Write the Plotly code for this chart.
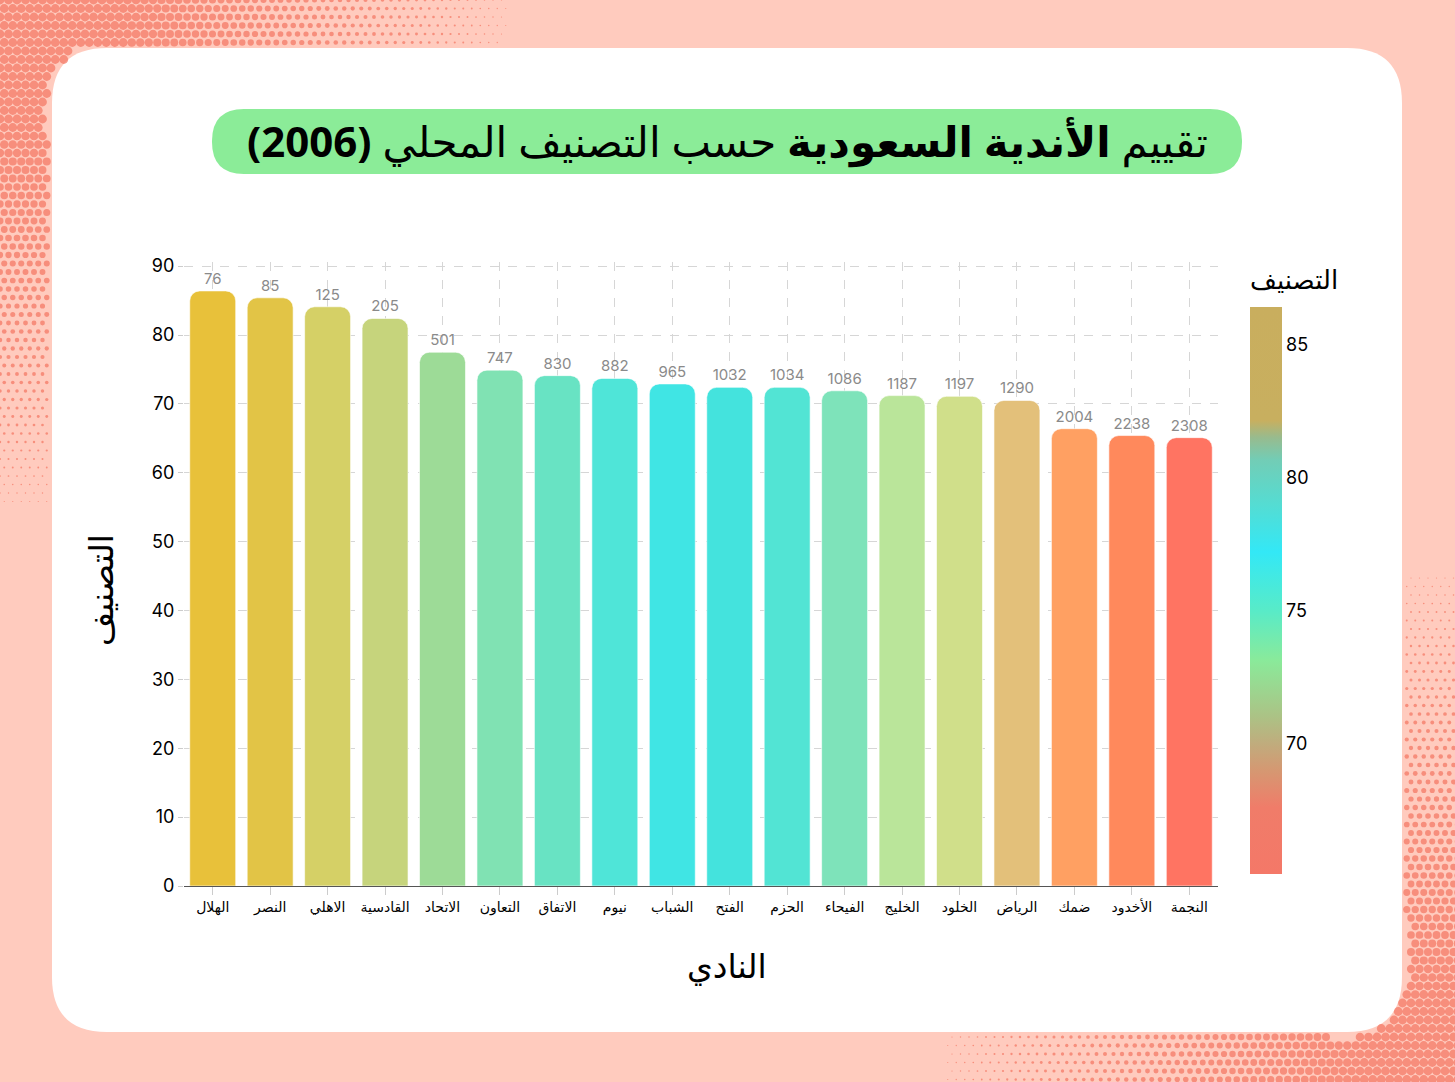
import numpy as np
import plotly.graph_objects as go

# data
clubs = ["الهلال", "النصر", "الاهلي", "القادسية", "الاتحاد", "التعاون", "الاتفاق", "نيوم", "الشباب",
         "الفتح", "الحزم", "الفيحاء", "الخليج", "الخلود", "الرياض", "ضمك", "الأخدود", "النجمة"]
ratings = [86.4, 85.4, 84.1, 82.4, 77.5, 74.9, 74.1, 73.7, 72.9,
           72.4, 72.4, 71.9, 71.2, 71.1, 70.5, 66.4, 65.4, 65.1]
ranks = [76, 85, 125, 205, 501, 747, 830, 882, 965,
         1032, 1034, 1086, 1187, 1197, 1290, 2004, 2238, 2308]

# styling
bar_colors = ["#E8C13A", "#E2C446", "#D5D066", "#C6D47C", "#9DDB97", "#80E2B3", "#68E3C3", "#4FE5D8", "#40E5E4",
              "#44E3DD", "#52E4D4", "#7EE3BA", "#BAE59A", "#D0DF8A", "#E3C07A", "#FFA062", "#FF895C", "#FF7462"]
cbar_scale = [[0.0, "#F47868"], [0.117, "#F07C69"], [0.183, "#D59872"], [0.23, "#C0AC7D"],
              [0.277, "#ACC285"], [0.376, "#8AEA9A"], [0.465, "#58EBC8"], [0.568, "#33E8F6"],
              [0.653, "#55DCD2"], [0.73, "#72CDB6"], [0.77, "#98BB8E"], [0.80, "#C8AF5F"], [1.0, "#C9AE5E"]]

W, H = 1455, 1082
BG = "#FFCBBE"
DOT = "#F3735F"
FONT = "Inter, Noto Sans, DejaVu Sans, sans-serif"
AR_FONT = "Noto Sans, DejaVu Sans, sans-serif"
CARD = (52, 48, 1402, 1032, 55)


def px(x, y):
    return x / W, 1 - y / H


def rounded_path(x0, y0, x1, y1, r):
    pts = [
        ("M", (x0 + r, y0)), ("L", (x1 - r, y0)), ("Q", (x1, y0), (x1, y0 + r)),
        ("L", (x1, y1 - r)), ("Q", (x1, y1), (x1 - r, y1)),
        ("L", (x0 + r, y1)), ("Q", (x0, y1), (x0, y1 - r)),
        ("L", (x0, y0 + r)), ("Q", (x0, y0), (x0 + r, y0)),
    ]
    out = []
    for p in pts:
        coords = " ".join("%.5f,%.5f" % px(*c) for c in p[1:])
        out.append(p[0] + coords)
    return " ".join(out) + " Z"


def inside_card(x, y, pad):
    x0, y0, x1, y1, r = CARD
    x0, y0, x1, y1, r = x0 - pad, y0 - pad, x1 + pad, y1 + pad, r + pad
    dx = np.maximum(np.maximum(x0 + r - x, 0), x - (x1 - r))
    dy = np.maximum(np.maximum(y0 + r - y, 0), y - (y1 - r))
    inbox = (x >= x0) & (x <= x1) & (y >= y0) & (y <= y1)
    return inbox & (dx ** 2 + dy ** 2 <= r ** 2)


# halftone corners (decoration only)
step = 8.5
gy, gx = np.mgrid[0:H + step:step, 0:W + step:step]
gx = gx + (np.arange(gx.shape[0])[:, None] % 2) * step / 2
gx, gy = gx.ravel(), gy.ravel()
d1 = np.hypot(gx, gy)
d2 = np.hypot(W - gx, H - gy)
size = np.maximum(11.5 * (1 - d1 / 560), 10.5 * (1 - d2 / 570))
size = np.minimum(size, 8.8)
keep = (size > 1.1) & ~inside_card(gx, gy, size / 2 + 1)
hx, hy, hs = gx[keep], H - gy[keep], size[keep]

fig = go.Figure()

fig.add_trace(go.Scatter(
    x=hx, y=hy, mode="markers", xaxis="x2", yaxis="y2",
    marker=dict(size=hs, color=DOT, line=dict(width=0)),
    hoverinfo="skip", showlegend=False,
))

fig.add_trace(go.Bar(
    x=clubs, y=ratings, text=ranks, textposition="outside",
    textfont=dict(color="#8A8A8A", size=15, family=FONT),
    marker=dict(color=bar_colors, line=dict(color="rgba(255,255,255,0.6)", width=1)),
    cliponaxis=False, showlegend=False,
))

# colorbar driven by the ratings
fig.add_trace(go.Scatter(
    x=clubs, y=ratings, mode="markers", hoverinfo="skip", showlegend=False,
    marker=dict(
        size=0.1, opacity=0, color=ratings, colorscale=cbar_scale, showscale=True,
        colorbar=dict(
            title=dict(text="التصنيف", side="top", font=dict(size=26, color="black", family=AR_FONT)),
            x=1250 / W, xanchor="left", xpad=0, ypad=0, thickness=32,
            len=(874 - 266) / H, lenmode="fraction",
            y=1 - 570 / H, yanchor="middle", outlinewidth=0, ticks="", dtick=5,
            tickfont=dict(size=18, color="black", family=FONT),
        ),
    ),
))

fig.update_layout(
    width=W, height=H,
    margin=dict(l=0, r=0, t=0, b=0, autoexpand=False),
    paper_bgcolor=BG, plot_bgcolor="rgba(0,0,0,0)",
    barcornerradius=10, bargap=0.2,
    showlegend=False,
    xaxis=dict(
        domain=[184 / W, 1218 / W], range=[-0.5, len(clubs) - 0.5],
        showgrid=True, gridcolor="#D6D6D6", griddash="dash", gridwidth=1,
        showline=True, linecolor="#555555", linewidth=1,
        ticks="outside", ticklen=8, tickcolor="#CCCCCC",
        tickfont=dict(size=14, color="black", family=AR_FONT), anchor="y",
    ),
    yaxis=dict(
        domain=[(H - 886) / H, (H - 262) / H], range=[0, 90.6], dtick=10,
        showgrid=True, gridcolor="#D6D6D6", griddash="dash", gridwidth=1, zeroline=False,
        ticks="outside", ticklen=5, tickcolor="#CCCCCC",
        tickfont=dict(size=18, color="black", family=FONT), anchor="x",
    ),
    xaxis2=dict(domain=[0, 1], range=[0, W], visible=False, anchor="y2", fixedrange=True),
    yaxis2=dict(domain=[0, 1], range=[0, H], visible=False, anchor="x2", fixedrange=True),
    shapes=[
        dict(type="path", path=rounded_path(*CARD), xref="paper", yref="paper",
             fillcolor="white", line=dict(width=0), layer="below"),
        dict(type="path", path=rounded_path(212, 109, 1242, 174, 32), xref="paper", yref="paper",
             fillcolor="#8BEC98", line=dict(width=0), layer="below"),
    ],
    annotations=[
        dict(text="<b>(2006)</b> تقييم <b>الأندية السعودية</b> حسب التصنيف المحلي",
             x=727 / W, y=1 - 141 / H, xref="paper", yref="paper", showarrow=False,
             font=dict(size=42, color="black", family=AR_FONT), xanchor="center", yanchor="middle"),
        dict(text="التصنيف", x=100 / W, y=1 - 590 / H, xref="paper", yref="paper", showarrow=False,
             textangle=-90, font=dict(size=33, color="black", family=AR_FONT),
             xanchor="center", yanchor="middle"),
        dict(text="النادي", x=727 / W, y=1 - 965 / H, xref="paper", yref="paper", showarrow=False,
             font=dict(size=33, color="black", family=AR_FONT), xanchor="center", yanchor="middle"),
    ],
)

fig.write_html(
    "out.html",
    config={"displayModeBar": False},
    post_script="document.body.style.margin='0';document.body.style.background='%s';" % BG,
)
